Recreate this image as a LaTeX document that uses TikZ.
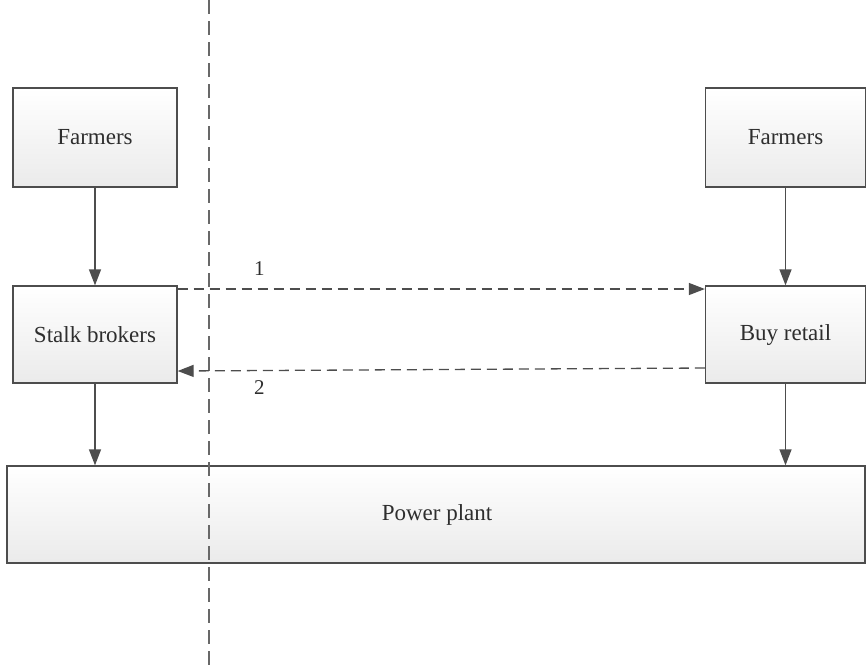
\documentclass[tikz,border=0pt]{standalone}
\usepackage{fontspec}
\setmainfont{Liberation Serif}
\usetikzlibrary{arrows.meta}
\definecolor{edgegray}{HTML}{4D4D4D}
\definecolor{inkgray}{HTML}{2E2E2E}
\tikzset{
  % The 'block' style is a grey-framed box with a soft white-to-grey fill
  block/.style={draw=edgegray, line width=1.3pt, top color=white, bottom color=black!8,
    font=\fontsize{23}{27}\selectfont, text=inkgray, inner sep=0pt},
  % The 'flow' style is a solid connector ending in a filled tip
  flow/.style={draw=edgegray, line width=1.3pt, -{Triangle[length=16pt,width=12pt]}},
  % The 'deal' style is the dashed version of 'flow'
  deal/.style={flow, dash pattern=on 10pt off 6pt},
  % The 'divider' style is the long vertical dashed line
  divider/.style={draw=edgegray!85, line width=1.2pt, dash pattern=on 14pt off 7pt},
  % The 'tag' style is for the small numbers on the dashed connectors
  tag/.style={font=\fontsize{21}{24}\selectfont, text=inkgray, inner sep=0pt}
}

\begin{document}
\begin{tikzpicture}[x=1pt, y=-1pt]

  % Fix the canvas to the size of the reference
  \useasboundingbox (0,0) rectangle (866,665);

  % Draw the boxes on the left side
  \node[block, minimum width=164pt, minimum height=99pt] at (95,137.5) (farmers-left) {Farmers};
  \node[block, minimum width=164pt, minimum height=97pt] at (95,334.5) (brokers) {Stalk brokers};

  % Draw the boxes on the right side
  \node[block, minimum width=160pt, minimum height=99pt] at (785.5,137.5) (farmers-right) {Farmers};
  \node[block, minimum width=160pt, minimum height=97pt] at (785.5,334.5) (retail) {Buy retail};

  % Draw the wide box at the bottom
  \node[block, minimum width=858pt, minimum height=97pt] (plant) at (436,514.5) {};
  \node[font=\fontsize{23}{27}\selectfont, text=inkgray] at (437,515) (plant-text) {Power plant};

  % Draw the vertical dashed divider
  \coordinate (divider-top) at (209,0);
  \coordinate (divider-bottom) at (209,665);
  \draw[divider] (divider-top) -- (divider-bottom);

  % Draw the solid connectors
  \draw[flow] (farmers-left) -- (brokers);
  \draw[flow] (farmers-right) -- (retail);
  \draw[flow] (brokers.south) -- (brokers.south |- plant.north);
  \draw[flow] (retail.south) -- (retail.south |- plant.north);

  % Draw the dashed connectors between the middle boxes
  \draw[deal] ([yshift=45.5pt]brokers.east) -- ([yshift=45.5pt]retail.west)
    node[tag, pos=0.155, above=13pt] (label-one) {1};
  \draw[deal] ([yshift=-33.5pt]retail.west) -- ([yshift=-36.5pt]brokers.east)
    node[tag, pos=0.845, below=9pt] (label-two) {2};

\end{tikzpicture}
\end{document}
